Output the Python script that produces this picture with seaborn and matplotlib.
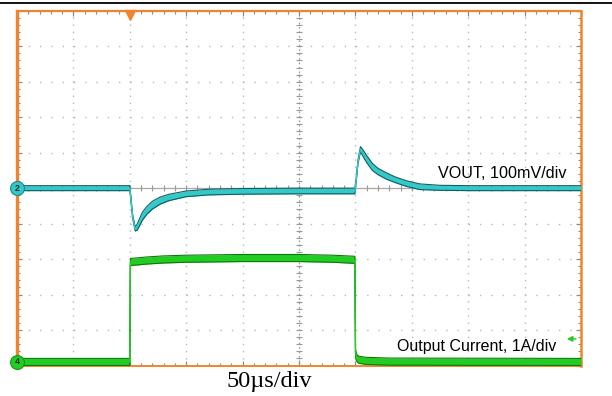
import numpy as np
import pandas as pd
import matplotlib
matplotlib.use("Agg")
import matplotlib.pyplot as plt
import seaborn as sns
from matplotlib.ticker import MultipleLocator

# ---------------- data (read from the scope capture) ----------------
# time axis in microseconds (50 us/div, 10 divisions)
vout_t = [0, 100, 100.8, 102.5, 104.8, 106.5, 108.5, 111, 115, 120, 127, 135,
          150, 170, 200, 250, 299.5, 300.6, 302.3, 304.5, 306.5, 310, 315, 320,
          327, 335, 345, 357, 375, 400, 450, 500]
# VOUT deviation in mV (100 mV/div)
vout_mv = [0, 0, -25, -80, -115, -110, -97, -80, -63, -48, -35, -26,
           -16, -11, -9, -8, -8, 20, 75, 110, 100, 82, 60, 47,
           35, 24, 13, 4, 1, 0, 0, 0]
# half-width of the VOUT noise band in mV
vout_band_mv = [7, 7, 5, 5, 6, 8, 10, 11, 11, 11, 10, 9,
                8, 8, 8, 8, 8, 5, 5, 7, 9, 10, 10, 9,
                9, 8, 8, 8, 7, 7, 7, 7]

cur_t = [0, 100, 100.5, 105, 115, 130, 150, 200, 250, 280, 299.5, 300.1,
         301, 303, 310, 330, 500]
# Output current in A (1 A/div)
cur_a = [0, 0, 2.82, 2.83, 2.86, 2.89, 2.91, 2.93, 2.93, 2.91, 2.88, 0.25,
         0.12, 0.06, 0.03, 0.01, 0]

vout_label = "VOUT, 100mV/div"
cur_label = "Output Current, 1A/div"
time_label = "50\u00b5s/div"

VOUT_SCALE = 100.0   # mV per division
VOUT_OFFSET = 0.0    # divisions
CUR_SCALE = 1.0      # A per division
CUR_OFFSET = -4.9    # divisions
TRIG_T = 100.0
TRIG_LEVEL_A = 0.65

# ---------------- style ----------------
sns.set_style("white")
plt.rcParams["font.family"] = ["Liberation Sans", "DejaVu Sans"]
plt.rcParams["lines.scale_dashes"] = False

W, H = 612, 396
fig = plt.figure(figsize=(W / 100, H / 100), dpi=100)
left, right, top, bottom = 17, 581, 10.8, 365.5
ax = fig.add_axes([left / W, 1 - bottom / H, (right - left) / W, (bottom - top) / H])
ax.set_xlim(0, 500)
ax.set_ylim(-5, 5)

orange = "#F0842C"
cyan = "#35C8C8"
cyan_dark = "#0E5E62"
green = "#22CC22"
green_dark = "#0B7A0B"

# grid: dotted lines with dots at minor-division spacing
px_per_div_x = (right - left) / 10
px_per_div_y = (bottom - top) / 10
ax.xaxis.set_major_locator(MultipleLocator(50))
ax.xaxis.set_minor_locator(MultipleLocator(10))
ax.yaxis.set_major_locator(MultipleLocator(1))
ax.yaxis.set_minor_locator(MultipleLocator(0.2))
gap_v = px_per_div_y / 5 * 0.72
gap_h = px_per_div_x / 5 * 0.72
ax.grid(axis="x", which="major", color="#b8b8b8", lw=1.0, linestyle=(0, (1.0, gap_v - 1.0)))
ax.grid(axis="y", which="major", color="#b8b8b8", lw=1.0, linestyle=(0, (1.0, gap_h - 1.0)))
ax.set_axisbelow(True)

ax.tick_params(which="both", direction="in", top=True, right=True, bottom=True, left=True,
               labelbottom=False, labelleft=False, color="#8a8a8a")
ax.tick_params(which="major", length=3.5, width=0.9)
ax.tick_params(which="minor", length=2.0, width=0.8)

for side, lw in [("left", 2.4), ("right", 1.8), ("top", 1.6), ("bottom", 1.4)]:
    ax.spines[side].set_color(orange)
    ax.spines[side].set_linewidth(lw)
    ax.spines[side].set_visible(True)

# centre cross-hair with small tick marks
ax.axhline(0, color="#aaa8a0", lw=0.9, zorder=1)
ax.axvline(250, color="#999999", lw=0.9, linestyle=(0, (1.2, 2.0)), zorder=1)
mx = np.arange(0, 501, 10)
ax.plot(mx, np.zeros_like(mx, dtype=float), ls="none", marker="|", ms=4, mew=0.8,
        color="#999999", zorder=1)
my = np.arange(-5, 5.01, 0.2)
ax.plot(np.full_like(my, 250), my, ls="none", marker="_", ms=4, mew=0.8,
        color="#999999", zorder=1)

# ---------------- traces ----------------
vdf = pd.DataFrame({"t": vout_t, "div": np.array(vout_mv) / VOUT_SCALE + VOUT_OFFSET,
                    "half": np.array(vout_band_mv) / VOUT_SCALE})
cdf = pd.DataFrame({"t": cur_t, "div": np.array(cur_a) / CUR_SCALE + CUR_OFFSET,
                    "half": 0.10})

def draw_trace(df, color, dark):
    t = df["t"].to_numpy()
    y = df["div"].to_numpy()
    half = df["half"].to_numpy()
    ax.fill_between(t, y - half, y + half, color=color, lw=0, zorder=3)
    ax.plot(t, y - half, color=dark, lw=0.8, zorder=4)
    ax.plot(t, y + half, color=dark, lw=0.8, zorder=4)
    sns.lineplot(data=df, x="t", y="div", ax=ax, color=color, lw=1.0, zorder=5)

draw_trace(cdf, green, green_dark)
draw_trace(vdf, cyan, cyan_dark)
ax.set_xlabel("")
ax.set_ylabel("")

# channel markers
ax.plot([0], [VOUT_OFFSET], marker="o", ms=10, color=cyan, mec="#1a8c8c", mew=0.8,
        clip_on=False, zorder=6)
ax.text(0, VOUT_OFFSET, "2", ha="center", va="center", fontsize=6.5, fontweight="bold",
        color="#103030", zorder=7, clip_on=False)
ax.plot([0], [CUR_OFFSET], marker="o", ms=10, color=green, mec="#119911", mew=0.8,
        clip_on=False, zorder=6)
ax.text(0, CUR_OFFSET, "4", ha="center", va="center", fontsize=6.5, fontweight="bold",
        color="#103010", zorder=7, clip_on=False)

# trigger position marker (top) and trigger level arrow (right)
ax.plot([TRIG_T], [4.88], marker="v", ms=7, color=orange, clip_on=False, zorder=6)
lvl = CUR_OFFSET + TRIG_LEVEL_A / CUR_SCALE
ax.annotate("", xy=(485, lvl), xytext=(498, lvl),
            arrowprops=dict(arrowstyle="-|>", color=green, lw=1.0, mutation_scale=8),
            zorder=6)

# ---------------- labels ----------------
fig.text(438 / W, 1 - 173 / H, vout_label, ha="left", va="center", fontsize=11.6, color="black")
fig.text(397 / W, 1 - 347 / H, cur_label, ha="left", va="center", fontsize=11.5, color="black")
fig.text(269 / W, 1 - 381 / H, time_label, ha="center", va="center", fontsize=17.5,
         family=["Liberation Serif", "DejaVu Serif"], color="black")

fig.add_artist(plt.Line2D([0, 1], [1 - 3 / H, 1 - 3 / H], color="black", lw=1.3,
                          transform=fig.transFigure))

fig.savefig("out.png", dpi=100)
